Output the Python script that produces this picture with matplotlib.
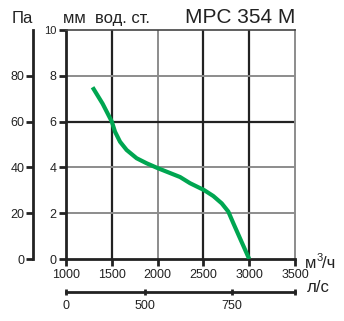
import matplotlib
matplotlib.use('Agg')
import matplotlib.pyplot as plt

plt.rcParams['font.family'] = ['Liberation Sans', 'DejaVu Sans']

# кривая вентилятора, м3/ч -> мм вод. ст.
flow = [1290, 1400, 1500, 1535, 1590, 1662, 1771, 1880, 2000, 2245, 2354,
        2507, 2608, 2700, 2772, 2827, 2900, 3000]
press = [7.5, 6.78, 6.0, 5.56, 5.12, 4.76, 4.4, 4.18, 3.97, 3.58, 3.31,
         3.01, 2.75, 2.43, 2.07, 1.56, 0.9, 0.0]

x_ticks = [1000, 1500, 2000, 2500, 3000, 3500]
mm_ticks = [0, 2, 4, 6, 8, 10]
pa_ticks = [0, 20, 40, 60, 80]
ls_labels = ['0', '500', '750', '']
ls_at = [1000, 1860, 2810, 3500]   # где стоят деления л/с на оси м3/ч

dark_x = [1500, 2500, 3000]
gray_x = [2000]
dark_y = [6]
gray_y = [2, 4, 8]

green = '#00a651'
ink = '#222222'

fig = plt.figure(figsize=(3.44, 3.21), dpi=100)
ax = fig.add_axes([66/344, 62/321, 229/344, 229/321])
ax.set_xlim(1000, 3500)
ax.set_ylim(0, 10)

for x in dark_x:
    ax.axvline(x, color=ink, lw=1.6, zorder=1)
for x in gray_x:
    ax.axvline(x, color='#8c8c8c', lw=1.4, zorder=1)
for y in dark_y:
    ax.axhline(y, color=ink, lw=1.6, zorder=1)
for y in gray_y:
    ax.axhline(y, color='#8c8c8c', lw=1.4, zorder=1)

ax.plot(flow, press, color=green, lw=3, solid_capstyle='butt',
        solid_joinstyle='round', zorder=3)

ax.set_xticks(x_ticks)
ax.set_xticklabels([str(v) for v in x_ticks])
ax.set_yticks(mm_ticks)
ax.set_yticklabels([str(v) for v in mm_ticks])
ax.tick_params(axis='both', direction='out', length=5, width=2, color=ink,
               labelsize=9, pad=2, labelcolor=ink)
ax.get_yticklabels()[-1].set_fontsize(8)
for s in ['left', 'bottom']:
    ax.spines[s].set_linewidth(2)
    ax.spines[s].set_color(ink)
ax.spines['right'].set_color('#8c8c8c')
ax.spines['right'].set_linewidth(1.4)
ax.spines['top'].set_color('#444444')
ax.spines['top'].set_linewidth(1.2)

# шкала Па
ax_pa = ax.twinx()
ax_pa.set_ylim(0, 100)
ax_pa.set_yticks(pa_ticks)
ax_pa.set_yticklabels([str(v) for v in pa_ticks])
ax_pa.yaxis.set_ticks_position('left')
ax_pa.yaxis.set_label_position('left')
for s in ['right', 'top', 'bottom']:
    ax_pa.spines[s].set_visible(False)
ax_pa.spines['left'].set_position(('outward', 23.8))
ax_pa.spines['left'].set_linewidth(2)
ax_pa.spines['left'].set_color(ink)
ax_pa.tick_params(axis='y', direction='out', length=5, width=2, color=ink,
                  labelsize=9, pad=1, labelcolor=ink)

# шкала л/с
ax_ls = ax.twiny()
ax_ls.set_xlim(ax.get_xlim())
ax_ls.set_xticks(ls_at)
ax_ls.set_xticklabels(ls_labels)
ax_ls.xaxis.set_ticks_position('bottom')
ax_ls.xaxis.set_label_position('bottom')
for s in ['right', 'top', 'left']:
    ax_ls.spines[s].set_visible(False)
ax_ls.spines['bottom'].set_position(('outward', 24))
ax_ls.spines['bottom'].set_linewidth(2)
ax_ls.spines['bottom'].set_color(ink)
ax_ls.tick_params(axis='x', direction='inout', length=5, width=2, color=ink,
                  labelsize=9, pad=3, labelcolor=ink)

fig.text(12/344, 1 - 23/321, 'Па', fontsize=12, va='baseline', color=ink)
fig.text(63/344, 1 - 23/321, 'мм  вод. ст.', fontsize=12, va='baseline', color=ink)
fig.text(185/344, 1 - 23/321, 'MPC 354 M', fontsize=15, va='baseline', color=ink)
fig.text(305/344, 1 - 268/321, 'м', fontsize=12, va='baseline', color=ink)
fig.text(316.5/344, 1 - 261/321, '3', fontsize=8, va='baseline', color=ink)
fig.text(322.5/344, 1 - 268/321, '/ч', fontsize=12, va='baseline', color=ink)
fig.text(307/344, 1 - 292/321, 'л/с', fontsize=12, va='baseline', color=ink)

fig.savefig('out.png', dpi=100, facecolor='white')
